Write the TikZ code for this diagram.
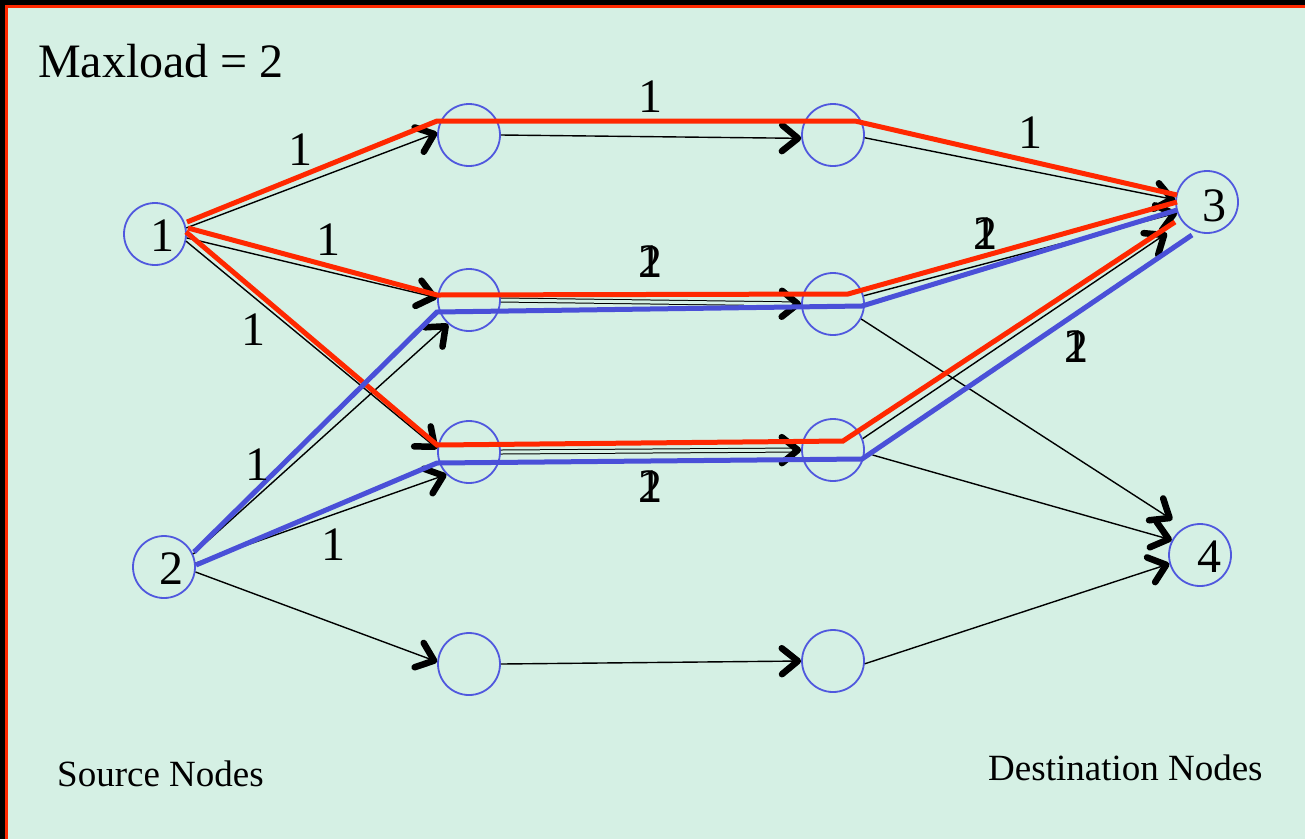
\documentclass[tikz,border=0pt]{standalone}
\usepackage{fontspec}
\setmainfont{Liberation Serif}
\usetikzlibrary{arrows.meta}
\definecolor{bgcol}{RGB}{213,240,228}
\definecolor{pathred}{RGB}{255,40,0}
\definecolor{pathblue}{RGB}{74,80,216}
\definecolor{ringblue}{RGB}{80,88,222}
\begin{document}
\begin{tikzpicture}[x=1pt,y=-1pt,
  station/.style={circle,draw=ringblue,line width=1.8pt,minimum size=62pt,inner sep=0pt},
  numtext/.style={font=\fontsize{48}{48}\selectfont,inner sep=0pt},
  capt/.style={font=\fontsize{37}{37}\selectfont,inner sep=0pt,anchor=base west},
  link/.style={line width=1.4pt,black,-{Straight Barb[length=16pt 0 0,width=26pt 0 0,line width=6.5pt 0 0,round]}},
  duallink/.style={link,double=bgcol,double distance=3pt,line width=1pt},
  redroute/.style={line width=5pt,pathred,line join=miter},
  blueroute/.style={line width=5pt,pathblue,line join=miter}]
% background and frame
\useasboundingbox (0,0) rectangle (1305,839);
\fill[bgcol] (0,0) rectangle (1305,839);
\fill[black] (0,0) rectangle (1305,5);
\fill[black] (0,0) rectangle (5,839);
\draw[pathred,line width=2.5pt] (6.5,839) -- (6.5,6.5) -- (1305,6.5);

% stations
\node[station] (n1) at (155,234) {};
\node[station] (n2) at (164,567) {};
\node[station] (a1) at (469,135) {};
\node[station] (b1) at (833,135) {};
\node[station] (a2) at (469,300) {};
\node[station] (b2) at (833,304) {};
\node[station] (a3) at (469,452) {};
\node[station] (b3) at (833,450) {};
\node[station] (a4) at (469,664) {};
\node[station] (b4) at (833,661) {};
\node[station] (n3) at (1207,202) {};
\node[station] (n4) at (1200,555) {};

\node[numtext] (t1) at (162,236) {1};
\node[numtext] (t2) at (171,569) {2};
\node[numtext] (t3) at (1214,206) {3};
\node[numtext] (t4) at (1209,557) {4};

% links
\draw[link] (n1.11) -- (a1.176);
\draw[link] (n1.-7) -- (a2.176);
\draw[link] (n1.-13) -- (a3.174);
\draw[link] (n2.24) -- (a2.229);
\draw[link] (n2.7) -- (a3.225);
\draw[link] (n2.-9) -- (a4.176);
\draw[link] (a1.0) -- (b1.186);
\draw[duallink] (a2.0) -- (b2.180);
\draw[duallink] (a3.0) -- (b3.180);
\draw[link] (a4.0) -- (b4.180);
\draw[link] (b1.-5) -- (n3.176);
\draw[link] (b2.15) -- (n3.200);
\draw[link,shorten >=14pt] (b2.-28) -- (n4.120);
\draw[link,shorten >=19pt] (b3.21) -- (n3.220);
\draw[link,shorten <=8pt] (b3.-5) -- (n4.152);
\draw[link] (b4.-5) -- (n4.196);

% routes
\coordinate (r1s) at (187,222); \coordinate (r1a) at (437,121);
\coordinate (r1b) at (855,121); \coordinate (r1e) at (1177,195);
\coordinate (r2s) at (188,228); \coordinate (r2a) at (437,295);
\coordinate (r2b) at (848,294); \coordinate (r2e) at (1177,202);
\coordinate (r3s) at (186,232); \coordinate (r3a) at (437,445);
\coordinate (r3b) at (843,441); \coordinate (r3e) at (1175,222);
\coordinate (u1s) at (194,552); \coordinate (u1a) at (437,312);
\coordinate (u1b) at (862,306); \coordinate (u1e) at (1177,210);
\coordinate (u2s) at (196,565); \coordinate (u2a) at (437,463);
\coordinate (u2b) at (862,459); \coordinate (u2e) at (1192,235);

\draw[redroute] (r1s) -- (r1a) -- (r1b) -- (r1e);
\draw[redroute] (r2s) -- (r2a) -- (r2b) -- (r2e);
\draw[redroute] (r3s) -- (r3a) -- (r3b) -- (r3e);
\draw[blueroute] (u1s) -- (u1a) -- (u1b) -- (u1e);
\draw[blueroute] (u2s) -- (u2a) -- (u2b) -- (u2e);

% link loads
\node[numtext] (w1) at (300,150) {1};
\node[numtext] (w2) at (328,240) {1};
\node[numtext] (w3) at (253,330) {1};
\node[numtext] (w4) at (650,97) {1};
\node[numtext] (w5) at (1030,133) {1};
\node[numtext] (w6) at (257,465) {1};
\node[numtext] (w7) at (333,545) {1};
\node[numtext] (w8a) at (650,262) {2};
\node[numtext] (w8b) at (650,262) {1};
\node[numtext] (w9a) at (985,234) {2};
\node[numtext] (w9b) at (985,234) {1};
\node[numtext] (w10a) at (1076,347) {2};
\node[numtext] (w10b) at (1076,347) {1};
\node[numtext] (w11a) at (650,487) {2};
\node[numtext] (w11b) at (650,487) {1};

% captions
\node[numtext,anchor=base west] (maxload) at (38,77) {Maxload = 2};
\node[capt] (src) at (57,786) {Source Nodes};
\node[capt] (dst) at (988,780) {Destination Nodes};
\end{tikzpicture}
\end{document}
